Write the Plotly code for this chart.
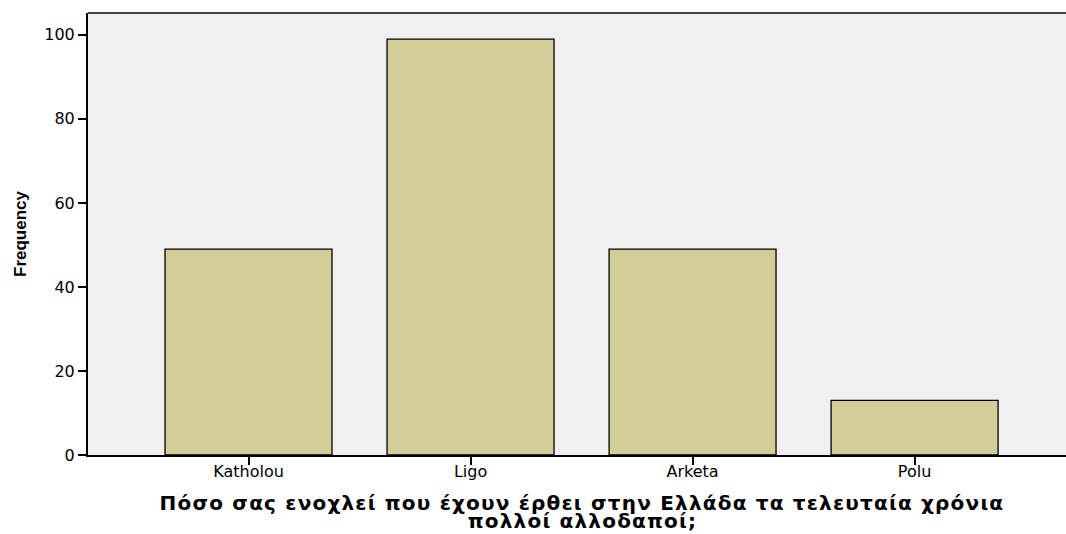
import plotly.graph_objects as go

categories = ["Katholou", "Ligo", "Arketa", "Polu"]
frequency = [49, 99, 49, 13]
y_ticks = [0, 20, 40, 60, 80, 100]
x_title_lines = ["Πόσο σας ενοχλεί που έχουν έρθει στην Ελλάδα τα τελευταία χρόνια",
                 "πολλοί αλλοδαποί;"]
y_title = "Frequency"

fig = go.Figure(go.Bar(
    x=list(range(len(categories))),
    y=frequency,
    width=0.752,
    marker=dict(color="#D3CE98", line=dict(color="#000000", width=1.3)),
))

fig.update_layout(
    width=1066, height=534,
    margin=dict(l=88, r=0, t=13, b=79, autoexpand=False),
    paper_bgcolor="#FFFFFF",
    plot_bgcolor="#F0F0F0",
    showlegend=False,
    font=dict(family="DejaVu Sans", color="#000000"),
    xaxis=dict(
        range=[-0.723, 3.682],
        tickmode="array",
        tickvals=list(range(len(categories))),
        ticktext=categories,
        ticks="outside", ticklen=8, tickwidth=2, tickcolor="#000000",
        tickfont=dict(size=16),
        ticklabelstandoff=-7,
        showline=True, linecolor="#000000", linewidth=2,
        showgrid=False, zeroline=False,
    ),
    yaxis=dict(
        range=[0, 105.2],
        tickmode="array",
        tickvals=y_ticks,
        ticks="outside", ticklen=8, tickwidth=2, tickcolor="#000000",
        tickfont=dict(size=16),
        showline=True, linecolor="#000000", linewidth=2,
        showgrid=False, zeroline=False,
    ),
)

fig.add_shape(type="line", xref="paper", yref="paper", x0=0, x1=1, y0=1, y1=1,
              line=dict(color="#444444", width=2))

# y-axis title
fig.add_annotation(text=y_title, xref="paper", yref="paper",
                   x=(20 - 88) / 978, y=0.5, xanchor="center", yanchor="middle",
                   textangle=-90, showarrow=False,
                   font=dict(family="Liberation Sans, Arial", size=17, weight="bold"))

# x-axis title (two lines)
for line, ypix in zip(x_title_lines, [503, 521]):
    fig.add_annotation(text=line, xref="paper", yref="paper",
                       x=(582 - 88) / 978, y=(455 - ypix) / 442,
                       xanchor="center", yanchor="middle", showarrow=False,
                       font=dict(family="DejaVu Sans", size=20, weight="bold"))

post = """
document.body.style.margin='0';
var anns = document.querySelectorAll('g.annotation-text-g text.annotation-text');
for (var i = 1; i < anns.length; i++) { anns[i].style.letterSpacing = '1.2px'; }
"""
fig.write_html("out.html", post_script=post, config={"displayModeBar": False})
